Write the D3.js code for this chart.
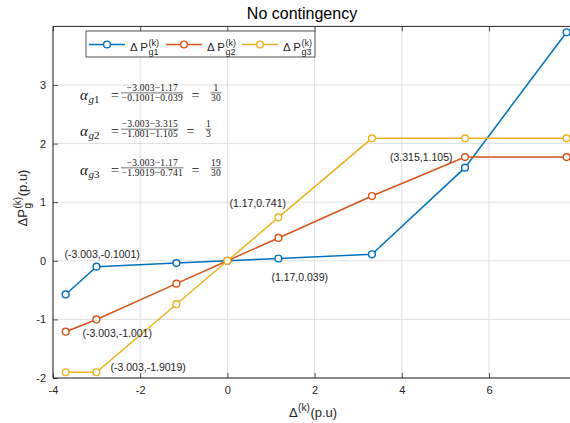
<!DOCTYPE html>
<html>
<head>
<meta charset="utf-8">
<script src="https://cdn.jsdelivr.net/npm/d3@7"></script>
<style>
    body { margin: 0; background: #fff; }
    svg { display: block; }
</style>
</head>
<body>
<svg id="chart" width="570" height="423"></svg>
<script>
// Chart data
const deltaK = [-3.71, -3.003, -1.17, 0, 1.17, 3.315, 5.45, 7.78];
const pG1 = [-0.574, -0.1001, -0.039, 0, 0.039, 0.1105, 1.59, 3.9];
const pG2 = [-1.21, -1.001, -0.39, 0, 0.39, 1.105, 1.77, 1.77];
const pG3 = [-1.9019, -1.9019, -0.741, 0, 0.741, 2.09, 2.09, 2.09];
const seriesSubs = ["g1", "g2", "g3"];

const xTicks = [-4, -2, 0, 2, 4, 6, 8];
const xTickLabels = [-4, -2, 0, 2, 4, 6];
const yTicks = [-2, -1, 0, 1, 2, 3];

// Point labels: text, series index, point index
const pointLabels = [
    ["(-3.003,-0.1001)", 0, 1],
    ["(-3.003,-1.001)", 1, 1],
    ["(-3.003,-1.9019)", 2, 1],
    ["(1.17,0.741)", 2, 4],
    ["(1.17,0.039)", 0, 4],
    ["(3.315,1.105)", 1, 6]
];

// Slope formulas
const alphaSubs = ["g1", "g2", "g3"];
const alphaNum = ["\u22123.003\u22121.17", "\u22123.003\u22123.315", "\u22123.003\u22121.17"];
const alphaDen = ["\u22120.1001\u22120.039", "\u22121.001\u22121.105", "\u22121.9019\u22120.741"];
const alphaResNum = ["1", "1", "19"];
const alphaResDen = ["30", "3", "30"];

const colors = ["#0072BD", "#D95319", "#EDB120"];
const ink = "#262626";
const sans = "'Liberation Sans', Arial, sans-serif";
const mathIt = "'Liberation Serif', 'Times New Roman', serif";

let svg = d3.select("#chart");

// Axes box
let margin = { top: 26.4, left: 53, bottom: 378 };
let x = d3.scaleLinear().domain([-4, 8]).range([margin.left, margin.left + 12 * 43.6]);
let y = d3.scaleLinear().domain([-2, 4]).range([margin.bottom, margin.top]);

// Grid
let grid = svg.append("g").attr("stroke", "#dfdfdf").attr("stroke-width", 1);
xTicks.forEach(function (t) {
    grid.append("line").attr("x1", x(t)).attr("x2", x(t)).attr("y1", y(-2)).attr("y2", y(4));
});
yTicks.forEach(function (t) {
    grid.append("line").attr("x1", x(-4)).attr("x2", x(8)).attr("y1", y(t)).attr("y2", y(t));
});

// Axes with inward ticks
let xAxis = svg.append("g")
    .attr("transform", "translate(0," + margin.bottom + ")")
    .call(d3.axisBottom(x).tickValues(xTickLabels).tickSize(-5).tickPadding(8).tickFormat(d => String(d)));
let yAxis = svg.append("g")
    .attr("transform", "translate(" + margin.left + ",0)")
    .call(d3.axisLeft(y).tickValues(yTicks).tickSize(-5).tickPadding(7).tickFormat(d => String(d)));
let xTop = svg.append("g")
    .attr("transform", "translate(0," + margin.top + ")")
    .call(d3.axisTop(x).tickValues(xTickLabels).tickSize(-5).tickFormat(""));

[xAxis, yAxis, xTop].forEach(function (a) {
    a.select(".domain").remove();
    a.selectAll(".tick line").attr("stroke", ink).attr("stroke-width", 0.8);
    a.selectAll(".tick text").attr("fill", ink).attr("font-family", sans).attr("font-size", 11);
});

// Box lines
let box = svg.append("g").attr("stroke", ink).attr("stroke-width", 1).attr("fill", "none");
box.append("line").attr("x1", x(-4)).attr("x2", x(-4)).attr("y1", y(-2)).attr("y2", y(4));
box.append("line").attr("x1", x(-4)).attr("x2", x(8)).attr("y1", y(-2)).attr("y2", y(-2));
box.append("line").attr("x1", x(-4)).attr("x2", x(8)).attr("y1", y(4)).attr("y2", y(4));
box.append("line").attr("x1", x(8)).attr("x2", x(8)).attr("y1", y(-2)).attr("y2", y(4));

// Series lines and markers
let series = [pG1, pG2, pG3];
let line = d3.line().x((d, i) => x(deltaK[i])).y(d => y(d));

series.forEach(function (vals, s) {
    let g = svg.append("g");
    g.append("path")
        .attr("d", line(vals))
        .attr("fill", "none")
        .attr("stroke", colors[s])
        .attr("stroke-width", 1.5);
    g.selectAll("circle")
        .data(vals)
        .enter().append("circle")
        .attr("cx", (d, i) => x(deltaK[i]))
        .attr("cy", d => y(d))
        .attr("r", 3.4)
        .attr("fill", "#fff")
        .attr("stroke", colors[s])
        .attr("stroke-width", 1.4);
});

// Point labels, offsets in pixels from their point
let labelOffsets = [[-32, -9], [-14, 17.5], [14, -1], [-49, -10.5], [-7, 22.5], [-75, 3.5]];
pointLabels.forEach(function (p, i) {
    let px = x(deltaK[p[2]]);
    let py = y(series[p[1]][p[2]]);
    svg.append("text")
        .attr("x", px + labelOffsets[i][0])
        .attr("y", py + labelOffsets[i][1])
        .attr("font-family", sans)
        .attr("font-size", 10.5)
        .attr("fill", "#222")
        .text(p[0]);
});

/**
 * Draws a text with a stacked superscript / subscript and an optional tail
 */
function scripted(parent, base, sup, sub, tail, size) {
    let g = parent.append("g").attr("font-family", sans).attr("fill", ink);
    let t = g.append("text").attr("font-size", size).text(base);
    let cx = t.node().getComputedTextLength() + 0.5;
    let w = 0;
    if (sup) {
        let ts = g.append("text").attr("x", cx).attr("y", -size * 0.45)
            .attr("font-size", size * 0.78).text(sup);
        w = Math.max(w, ts.node().getComputedTextLength());
    }
    if (sub) {
        let tb = g.append("text").attr("x", cx).attr("y", size * 0.33)
            .attr("font-size", size * 0.78).text(sub);
        w = Math.max(w, tb.node().getComputedTextLength());
    }
    cx += w + 0.5;
    if (tail) {
        let tt = g.append("text").attr("x", cx).attr("font-size", size).text(tail);
        cx += tt.node().getComputedTextLength();
    }
    return { g: g, width: cx };
}

// Legend
let legend = svg.append("g");
legend.append("rect")
    .attr("x", 86).attr("y", 31)
    .attr("width", 229).attr("height", 26)
    .attr("fill", "#fff").attr("stroke", ink).attr("stroke-width", 0.8);
let legendX = [89, 166, 242];
seriesSubs.forEach(function (s, i) {
    let lx = legendX[i];
    legend.append("line")
        .attr("x1", lx).attr("x2", lx + 36).attr("y1", 44.5).attr("y2", 44.5)
        .attr("stroke", colors[i]).attr("stroke-width", 1.5);
    legend.append("circle")
        .attr("cx", lx + 18).attr("cy", 44.5).attr("r", 3.4)
        .attr("fill", "#fff").attr("stroke", colors[i]).attr("stroke-width", 1.4);
    let lab = scripted(legend, "\u0394 P", "(k)", s, null, 11.5);
    lab.g.attr("transform", "translate(" + (lx + 41) + ",51)");
});

// Formulas
let formulaX = x(-3.38);
let formulaY = [2.82, 2.2, 1.54];

function fraction(parent, fx, lineY, num, den, size) {
    let g = parent.append("g").attr("font-family", mathIt).attr("font-size", size)
        .attr("letter-spacing", 0.25).attr("fill", "#111");
    let tn = g.append("text").attr("y", lineY - 2.3).attr("text-anchor", "middle").text(num);
    let td = g.append("text").attr("y", lineY + 8.3).attr("text-anchor", "middle").text(den);
    let w = Math.max(tn.node().getComputedTextLength(), td.node().getComputedTextLength()) + 1;
    tn.attr("x", fx + w / 2);
    td.attr("x", fx + w / 2);
    g.append("line").attr("x1", fx).attr("x2", fx + w)
        .attr("y1", lineY).attr("y2", lineY)
        .attr("stroke", "#111").attr("stroke-width", 0.6);
    return w;
}

alphaSubs.forEach(function (s, i) {
    let yc = y(formulaY[i]);
    let g = svg.append("g").attr("fill", "#111");
    let ta = g.append("text").attr("x", formulaX).attr("y", yc + 4)
        .attr("font-family", mathIt).attr("font-style", "italic").attr("font-size", 15).text("\u03b1");
    let sx = formulaX + ta.node().getComputedTextLength() + 0.5;
    let sb = g.append("text").attr("x", sx).attr("y", yc + 7)
        .attr("font-family", mathIt).attr("font-size", 11);
    sb.append("tspan").attr("font-style", "italic").text(s.charAt(0));
    sb.append("tspan").text(s.slice(1));
    let lineY = yc - 2.7;
    g.append("text").attr("x", formulaX + 31).attr("y", yc + 4)
        .attr("font-family", mathIt).attr("font-size", 14).text("=");
    let fx = formulaX + 41;
    let w = fraction(g, fx, lineY, alphaNum[i], alphaDen[i], 9.5);
    let ex = fx + w + 8;
    g.append("text").attr("x", ex).attr("y", yc + 4)
        .attr("font-family", mathIt).attr("font-size", 14).text("=");
    fraction(g, ex + 19, lineY, alphaResNum[i], alphaResDen[i], 9.5);
});

// Title
svg.append("text")
    .attr("x", 302).attr("y", 19)
    .attr("text-anchor", "middle")
    .attr("font-family", sans).attr("font-size", 16).attr("fill", "#000")
    .text("No contingency");

// X label
let xl = scripted(svg, "\u0394", "(k)", null, "(p.u)", 13);
xl.g.attr("transform", "translate(" + (313 - xl.width / 2) + ",417)");

// Y label
let yl = scripted(svg, "\u0394P", "(k)", "g", "(p.u)", 13);
yl.g.attr("transform", "translate(27," + (198 + yl.width / 2) + ") rotate(-90)");
</script>
</body>
</html>
